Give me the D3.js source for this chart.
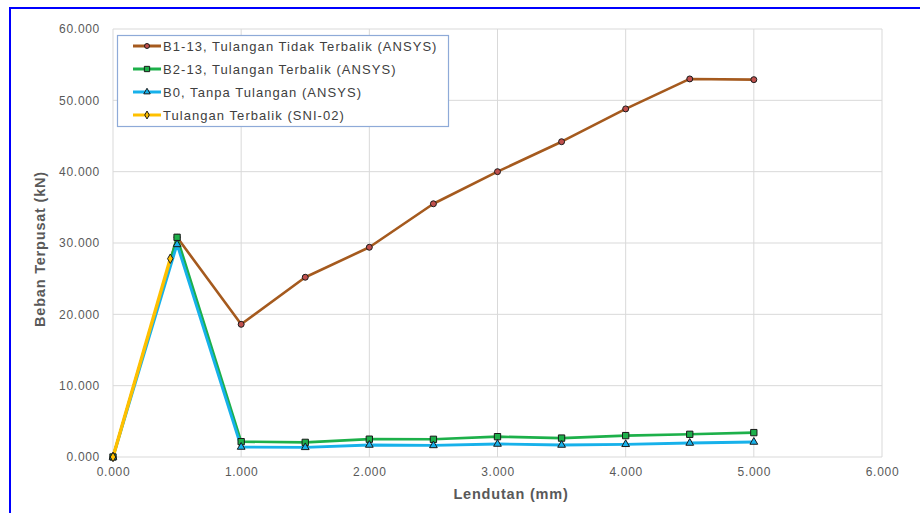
<!DOCTYPE html>
<html><head><meta charset="utf-8">
<script src="https://cdn.jsdelivr.net/npm/d3@7"></script>
<style>body{margin:0;background:#fff}svg{display:block}</style>
</head><body>
<svg id="c" width="920" height="513"></svg>
<script>
const xB1 = [0, 0.5, 1.0, 1.5, 2.0, 2.5, 3.0, 3.5, 4.0, 4.5, 5.0];
const yB1 = [0, 30.8, 18.6, 25.2, 29.4, 35.5, 40.0, 44.2, 48.8, 53.0, 52.9];
const xB2 = [0, 0.5, 1.0, 1.5, 2.0, 2.5, 3.0, 3.5, 4.0, 4.5, 5.0];
const yB2 = [0, 30.8, 2.15, 2.05, 2.5, 2.48, 2.85, 2.65, 3.0, 3.18, 3.42];
const xB0 = [0, 0.5, 1.0, 1.5, 2.0, 2.5, 3.0, 3.5, 4.0, 4.5, 5.0];
const yB0 = [0, 29.8, 1.4, 1.35, 1.68, 1.62, 1.82, 1.68, 1.78, 1.96, 2.1];
const xSNI = [0, 0.447];
const ySNI = [0, 27.8];
const xTicks = [0, 1, 2, 3, 4, 5, 6];
const yTicks = [0, 10, 20, 30, 40, 50, 60];
const names = ["B1-13, Tulangan Tidak Terbalik (ANSYS)", "B2-13, Tulangan Terbalik (ANSYS)", "B0, Tanpa Tulangan (ANSYS)", "Tulangan Terbalik (SNI-02)"];

const series = [
  {name: names[0], xs: xB1, ys: yB1, color: "#a55a1e", mfill: "#c0504d", sym: d3.symbolCircle, msize: 28, w: 2.6},
  {name: names[1], xs: xB2, ys: yB2, color: "#1db04a", mfill: "#1db04a", sym: d3.symbolSquare, msize: 40, w: 2.6},
  {name: names[2], xs: xB0, ys: yB0, color: "#17b1ea", mfill: "#17b1ea", sym: d3.symbolTriangle, msize: 26, w: 2.8},
  {name: names[3], xs: xSNI, ys: ySNI, color: "#ffc000", mfill: "#ffc000", sym: d3.symbolDiamond, msize: 26, w: 3.4}
];

const svg = d3.select("#c");
const L = 113, R = 882, T = 29, B = 457;
const x = d3.scaleLinear().domain([0, 6]).range([L, R]);
const y = d3.scaleLinear().domain([0, 60]).range([B, T]);
const font = "Liberation Sans, Arial, sans-serif";

svg.append("rect").attr("x", 10).attr("y", 8).attr("width", 930).attr("height", 520)
  .attr("fill", "none").attr("stroke", "#0000ff").attr("stroke-width", 2);

const g = svg.append("g");
g.selectAll(".gx").data(xTicks).enter().append("line")
  .attr("x1", d => x(d)).attr("x2", d => x(d)).attr("y1", T).attr("y2", B)
  .attr("stroke", "#d9d9d9").attr("stroke-width", 1);
g.selectAll(".gy").data(yTicks).enter().append("line")
  .attr("x1", L).attr("x2", R).attr("y1", d => y(d)).attr("y2", d => y(d))
  .attr("stroke", "#d9d9d9").attr("stroke-width", 1);

const xAxis = svg.append("g").attr("transform", `translate(0,${B})`)
  .call(d3.axisBottom(x).tickValues(xTicks).tickFormat(d3.format(".3f")).tickSize(0).tickPadding(10));
const yAxis = svg.append("g").attr("transform", `translate(${L},0)`)
  .call(d3.axisLeft(y).tickValues(yTicks).tickFormat(d3.format(".3f")).tickSize(0).tickPadding(13));
[xAxis, yAxis].forEach(a => {
  a.select(".domain").remove();
  a.selectAll("text").attr("font-family", font).attr("font-size", 12).attr("fill", "#595959")
    .attr("letter-spacing", 0.7);
});

svg.append("text").attr("x", 511).attr("y", 499).attr("text-anchor", "middle")
  .attr("font-family", font).attr("font-size", 14.5).attr("font-weight", "bold").attr("fill", "#595959")
  .attr("letter-spacing", 0.8).text("Lendutan (mm)");
svg.append("text").attr("transform", `translate(45,249) rotate(-90)`).attr("text-anchor", "middle")
  .attr("font-family", font).attr("font-size", 14.5).attr("font-weight", "bold").attr("fill", "#595959")
  .attr("letter-spacing", 0.8).text("Beban Terpusat (kN)");

const line = d3.line().x(d => x(d[0])).y(d => y(d[1]));
series.forEach(s => {
  const pts = s.xs.map((v, i) => [v, s.ys[i]]);
  svg.append("path").datum(pts).attr("d", line).attr("fill", "none")
    .attr("stroke", s.color).attr("stroke-width", s.w).attr("stroke-linejoin", "round");
  s.pts = pts;
});
series.forEach(s => {
  svg.append("g").selectAll("path").data(s.pts).enter().append("path")
    .attr("transform", d => `translate(${x(d[0])},${y(d[1])})`)
    .attr("d", d3.symbol().type(s.sym).size(s.msize))
    .attr("fill", s.mfill).attr("stroke", "#1a1a1a").attr("stroke-width", 1);
});

const lg = svg.append("g");
lg.append("rect").attr("x", 117.5).attr("y", 35.5).attr("width", 331).attr("height", 91)
  .attr("fill", "#fff").attr("stroke", "#8eaad8").attr("stroke-width", 1.2);
series.forEach((s, i) => {
  const yy = 46 + i * 23;
  lg.append("line").attr("x1", 133).attr("x2", 161).attr("y1", yy).attr("y2", yy)
    .attr("stroke", s.color).attr("stroke-width", 3);
  lg.append("path").attr("transform", `translate(147,${yy})`)
    .attr("d", d3.symbol().type(s.sym).size(s.msize * 0.7))
    .attr("fill", s.mfill).attr("stroke", "#1a1a1a").attr("stroke-width", 1);
  lg.append("text").attr("x", 163).attr("y", yy + 4.5).attr("font-family", font)
    .attr("font-size", 13).attr("letter-spacing", 1.05).attr("fill", "#404040").text(s.name);
});
</script>
</body></html>
